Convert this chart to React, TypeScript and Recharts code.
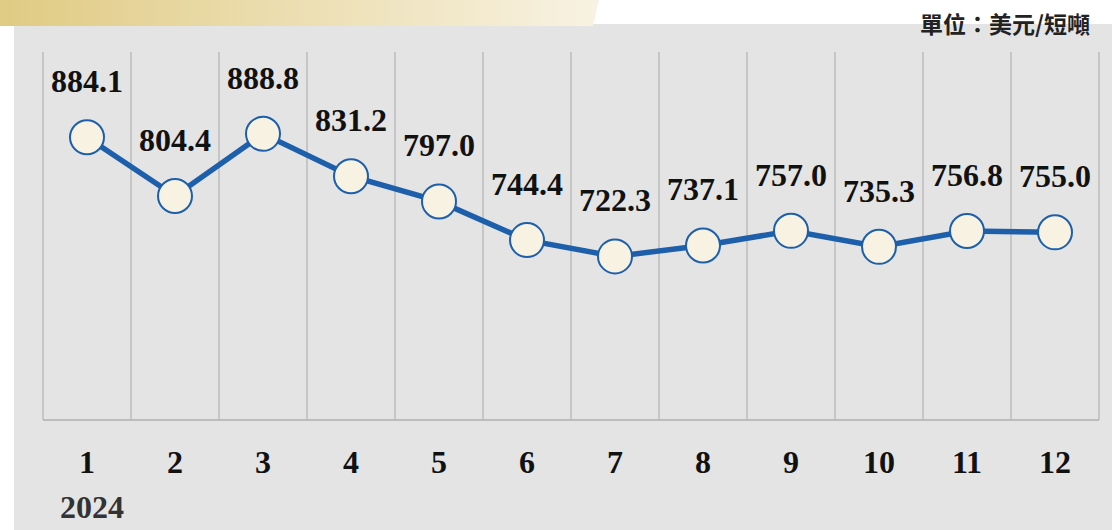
import { LineChart, Line, XAxis, YAxis, CartesianGrid, LabelList } from 'recharts'

const months = ['1', '2', '3', '4', '5', '6', '7', '8', '9', '10', '11', '12']
const prices = [884.1, 804.4, 888.8, 831.2, 797.0, 744.4, 722.3, 737.1, 757.0, 735.3, 756.8, 755.0]
const yearLabel = '2024'
const unitLabel = '單位：美元/短噸'

const data = months.map((m, i) => ({ month: m, price: prices[i] }))

const BLUE = '#1d5fab'
const SERIF = '"Liberation Serif", "Times New Roman", serif'

function MonthTick({ x, y, payload, index }: any) {
  return (
    <g>
      <text x={x} y={y} dy={45} textAnchor="middle" fontFamily={SERIF} fontWeight="bold" fontSize={32} fill="#111">
        {payload.value}
      </text>
      {index === 0 && (
        <text x={x + 5} y={y} dy={90} textAnchor="middle" fontFamily={SERIF} fontWeight="bold" fontSize={32} fill="#333">
          {yearLabel}
        </text>
      )}
    </g>
  )
}

function ValueLabel({ x, y, value }: any) {
  return (
    <text x={x} y={y - 45} textAnchor="middle" fontFamily={SERIF} fontWeight="bold" fontSize={32} fill="#111">
      {Number(value).toFixed(1)}
    </text>
  )
}

// vertical lines sit on the month boundaries, not on the points
const cellBoundaries = ({ offset }: any) => {
  const step = offset.width / months.length
  return Array.from({ length: months.length + 1 }, (_, i) => offset.left + i * step)
}

export default function App() {
  return (
    <div style={{ position: 'absolute', left: 0, top: 0, width: 1112, height: 530, background: '#fff', overflow: 'hidden' }}>
      {/* grey panel */}
      <div style={{ position: 'absolute', left: 14, top: 24, right: 0, bottom: 0, background: '#e4e4e4' }} />
      {/* title banner (text cut off above the frame) */}
      <svg width={1112} height={30} style={{ position: 'absolute', left: 0, top: 0 }}>
        <defs>
          <linearGradient id="banner" x1="0" x2="1" y1="0" y2="0">
            <stop offset="0%" stopColor="#e0cb83" />
            <stop offset="100%" stopColor="#f8f2e2" />
          </linearGradient>
        </defs>
        <polygon points="0,0 599,0 593,26 0,26" fill="url(#banner)" />
      </svg>
      <div
        style={{
          position: 'absolute',
          right: 22,
          top: 8,
          fontFamily: '"Noto Sans CJK TC", sans-serif',
          fontWeight: 700,
          fontSize: 23,
          color: '#222',
          lineHeight: '30px',
        }}
      >
        {unitLabel}
      </div>
      <div style={{ position: 'absolute', left: 0, top: 0 }}>
        <LineChart width={1112} height={530} data={data} margin={{ top: 52, right: 13, left: 43, bottom: 80 }}>
          <CartesianGrid
            vertical
            horizontal={false}
            verticalCoordinatesGenerator={cellBoundaries}
            stroke="#c6c6c6"
            strokeWidth={2}
          />
          <XAxis
            dataKey="month"
            type="category"
            padding={{ left: 44, right: 44 }}
            axisLine={{ stroke: '#bcbcbc', strokeWidth: 2 }}
            tickLine={false}
            tick={<MonthTick />}
            interval={0}
            height={30}
          />
          <YAxis type="number" domain={[500, 1000]} hide />
          <Line
            type="linear"
            dataKey="price"
            stroke={BLUE}
            strokeWidth={5.5}
            dot={{ r: 17, fill: '#f7f2e2', stroke: BLUE, strokeWidth: 2 }}
            isAnimationActive={false}
          >
            <LabelList dataKey="price" content={<ValueLabel />} />
          </Line>
        </LineChart>
      </div>
    </div>
  )
}
